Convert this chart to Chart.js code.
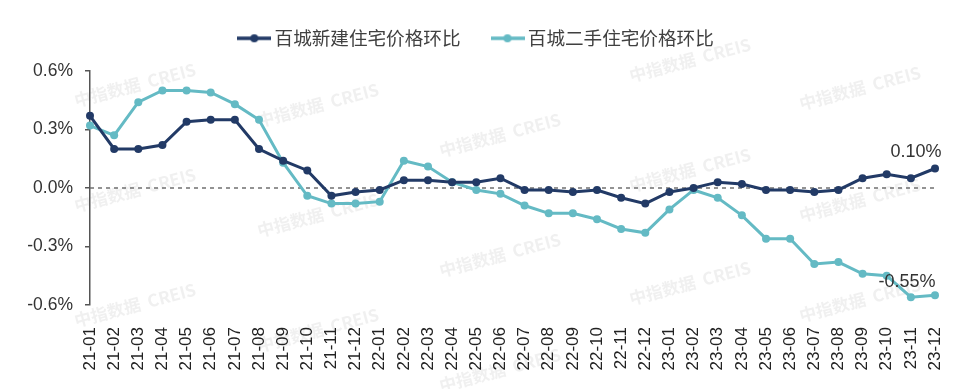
<!DOCTYPE html>
<html>
<head>
<meta charset="utf-8"/>
<title>百城住宅价格环比</title>
<script src="https://cdn.jsdelivr.net/npm/chart.js@4.4.0/dist/chart.umd.min.js"></script>
<style>
  html, body { margin: 0; padding: 0; background: #fff; }
  #wrap { width: 960px; height: 389px; }
</style>
</head>
<body>
<div id="wrap"><canvas id="chart" width="960" height="389"></canvas></div>
<script>
// months
var months = ['21-01','21-02','21-03','21-04','21-05','21-06','21-07','21-08','21-09','21-10','21-11','21-12',
              '22-01','22-02','22-03','22-04','22-05','22-06','22-07','22-08','22-09','22-10','22-11','22-12',
              '23-01','23-02','23-03','23-04','23-05','23-06','23-07','23-08','23-09','23-10','23-11','23-12'];
// 百城新建住宅价格环比 (%)
var newHome = [0.37,0.20,0.20,0.22,0.34,0.35,0.35,0.20,0.14,0.09,-0.04,-0.02,
               -0.01,0.04,0.04,0.03,0.03,0.05,-0.01,-0.01,-0.02,-0.01,-0.05,-0.08,
               -0.02,0.00,0.03,0.02,-0.01,-0.01,-0.02,-0.01,0.05,0.07,0.05,0.10];
// 百城二手住宅价格环比 (%)
var secondHome = [0.32,0.27,0.44,0.50,0.50,0.49,0.43,0.35,0.13,-0.04,-0.08,-0.08,
                  -0.07,0.14,0.11,0.03,-0.01,-0.03,-0.09,-0.13,-0.13,-0.16,-0.21,-0.23,
                  -0.11,-0.01,-0.05,-0.14,-0.26,-0.26,-0.39,-0.38,-0.44,-0.45,-0.56,-0.55];
var yTicks = [-0.6, -0.3, 0, 0.3, 0.6];
var seriesNames = ['百城新建住宅价格环比', '百城二手住宅价格环比'];

var navy = '#223a66';
var teal = '#64bac4';

// legend marker: line with a dot
function marker(color) {
  var c = document.createElement('canvas');
  c.width = 34; c.height = 12;
  var g = c.getContext('2d');
  g.strokeStyle = color; g.lineWidth = 3.5;
  g.beginPath(); g.moveTo(0, 6); g.lineTo(34, 6); g.stroke();
  g.fillStyle = color;
  g.beginPath(); g.arc(17, 6, 4, 0, Math.PI * 2); g.fill();
  return c;
}

// faint watermark text
var watermarkPlugin = {
  id: 'watermark',
  beforeDraw: function(chart) {
    var ctx = chart.ctx;
    var spots = [[135,85],[318,105],[500,135],[690,60],[860,88],
                 [135,190],[318,215],[690,170],[860,200],
                 [500,255],[135,305],[690,283],[860,300],[318,330],[500,370]];
    ctx.save();
    ctx.font = 'bold 17px "Noto Sans CJK SC", sans-serif';
    ctx.fillStyle = 'rgba(160,160,160,0.16)';
    ctx.textAlign = 'center';
    ctx.textBaseline = 'middle';
    spots.forEach(function(p) {
      ctx.save();
      ctx.translate(p[0], p[1]);
      ctx.rotate(-0.26);
      ctx.fillText('中指数据  CREIS', 0, 0);
      ctx.restore();
    });
    ctx.restore();
  }
};

// dashed zero line
var zeroLinePlugin = {
  id: 'zeroLine',
  beforeDatasetsDraw: function(chart) {
    var y = chart.scales.y.getPixelForValue(0);
    var a = chart.chartArea;
    var ctx = chart.ctx;
    ctx.save();
    ctx.strokeStyle = '#707070';
    ctx.lineWidth = 1.5;
    ctx.setLineDash([4, 4]);
    ctx.beginPath(); ctx.moveTo(a.left, y); ctx.lineTo(a.right, y); ctx.stroke();
    ctx.restore();
  }
};

// value labels for the last point of each line
var endLabelPlugin = {
  id: 'endLabel',
  afterDatasetsDraw: function(chart) {
    var ctx = chart.ctx;
    ctx.save();
    ctx.font = '18px "Liberation Sans", Arial, sans-serif';
    ctx.fillStyle = '#333';
    ctx.textAlign = 'center';
    ctx.textBaseline = 'alphabetic';
    var shifts = [[-19, -12], [-28, -8]];
    chart.data.datasets.forEach(function(ds, i) {
      var meta = chart.getDatasetMeta(i);
      var last = meta.data[meta.data.length - 1];
      var v = ds.data[ds.data.length - 1];
      ctx.fillText(v.toFixed(2) + '%', last.x + shifts[i][0], last.y + shifts[i][1]);
    });
    ctx.restore();
  }
};

// legend height fix and small shift
var legendFit = {
  id: 'legendFit',
  beforeInit: function(chart) {
    var orig = chart.legend.fit;
    chart.legend.fit = function() {
      orig.bind(chart.legend)();
      this.height = 71;
    };
  },
  afterLayout: function(chart) {
    var lg = chart.legend;
    lg.top -= 7;
    lg.bottom -= 7;
    lg.left += 11;
    lg.right += 11;
    if (lg.adjustHitBoxes) lg.adjustHitBoxes();
  }
};

var ctx = document.getElementById('chart');
var myChart = new Chart(ctx, {
  type: 'line',
  data: {
    labels: months,
    datasets: [{
      label: seriesNames[0],
      data: newHome,
      borderColor: navy,
      backgroundColor: navy,
      borderWidth: 3,
      pointRadius: 4,
      pointBorderWidth: 0,
      tension: 0,
      fill: false
    }, {
      label: seriesNames[1],
      data: secondHome,
      borderColor: teal,
      backgroundColor: teal,
      borderWidth: 3,
      pointRadius: 4,
      pointBorderWidth: 0,
      tension: 0,
      fill: false
    }]
  },
  options: {
    responsive: false,
    animation: false,
    devicePixelRatio: 1,
    layout: { padding: { left: 0, right: 25, top: 0, bottom: 0 } },
    plugins: {
      legend: {
        position: 'top',
        align: 'center',
        labels: {
          usePointStyle: true,
          pointStyleWidth: 22,
          padding: 36,
          color: '#404040',
          font: { family: '"Noto Sans CJK SC", sans-serif', size: 18.6 },
          generateLabels: function(chart) {
            return chart.data.datasets.map(function(ds, i) {
              return {
                text: ds.label,
                pointStyle: marker(ds.borderColor),
                fillStyle: ds.borderColor,
                strokeStyle: ds.borderColor,
                lineWidth: 0,
                fontColor: '#404040',
                datasetIndex: i
              };
            });
          }
        }
      },
      tooltip: { enabled: false }
    },
    scales: {
      x: {
        grid: { display: false },
        border: { display: false },
        ticks: {
          autoSkip: false,
          maxRotation: 90,
          minRotation: 90,
          padding: 14,
          color: '#222',
          font: { family: '"Liberation Sans", Arial, sans-serif', size: 17 }
        },
        afterFit: function(scale) {
          scale.height = 84;
          scale.paddingLeft = 0;
          scale.paddingRight = 0;
        }
      },
      y: {
        min: -0.6,
        max: 0.6,
        afterBuildTicks: function(scale) {
          scale.ticks = yTicks.map(function(v) { return { value: v }; });
        },
        grid: { display: true, drawOnChartArea: false, drawTicks: true, tickLength: 5, color: '#555', lineWidth: 1.5 },
        border: { display: true, color: '#555', width: 1.5 },
        ticks: {
          padding: 12,
          color: '#333',
          font: { family: '"Liberation Sans", Arial, sans-serif', size: 17.5 },
          callback: function(v) {
            var r = Math.round(v * 10) / 10;
            if (r === 0) r = 0;
            return r.toFixed(1) + '%';
          }
        },
        afterFit: function(scale) { scale.width = 90; }
      }
    }
  },
  plugins: [watermarkPlugin, zeroLinePlugin, endLabelPlugin, legendFit]
});
</script>
</body>
</html>
